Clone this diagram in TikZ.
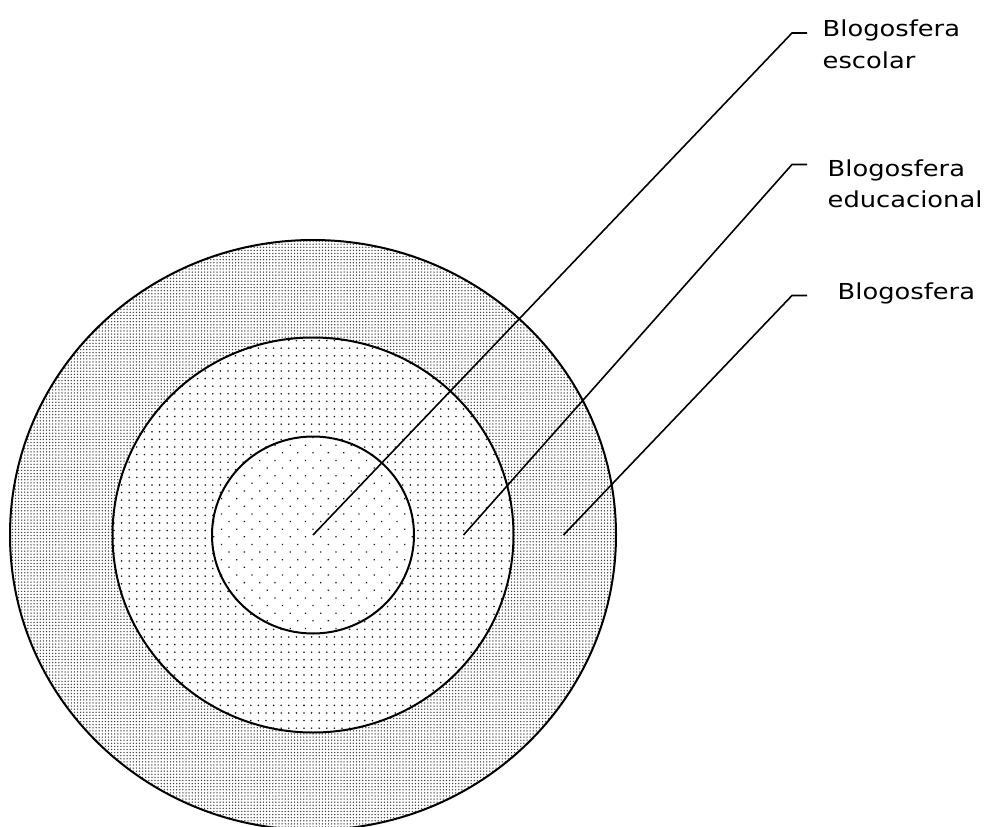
\documentclass[tikz,border=0pt]{standalone}
\usepackage{fontspec}
\newfontfamily\labfont[FakeStretch=1.17]{DejaVu Sans}
\usetikzlibrary{patterns.meta}
\tikzset{
  ring/.style={line width=2pt, draw=black},
  leader/.style={line width=1.6pt, draw=black},
  lab/.style={anchor=base west, align=left, inner sep=0pt,
              font=\labfont\fontsize{22}{31.6}\selectfont}
}
\begin{document}
\begin{tikzpicture}[x=1pt,y=-1pt]
\useasboundingbox (0,0) rectangle (986,827);
\clip (0,0) rectangle (986,827);
% fills
\fill[white] (313,535) ellipse [x radius=303, y radius=295];
\fill[pattern={Dots[distance=3.1pt, radius=0.75pt]}, pattern color=black!75]
  (313,535) ellipse [x radius=303, y radius=295];
\fill[white] (313,535) ellipse [x radius=200.5, y radius=197.5];
\fill[pattern={Dots[distance=7.6pt, radius=0.9pt]}, pattern color=black!90]
  (313,535) ellipse [x radius=200.5, y radius=197.5];
\fill[white] (313,535) ellipse [x radius=101, y radius=98.5];
\fill[pattern={Dots[distance=10.8pt, angle=45, radius=0.9pt]}, pattern color=black!90]
  (313,535) ellipse [x radius=101, y radius=98.5];
% outlines
\draw[ring] (313,535) ellipse [x radius=303, y radius=295];
\draw[ring] (313,535) ellipse [x radius=200.5, y radius=197.5];
\draw[ring] (313,535) ellipse [x radius=101, y radius=98.5];
% leader points
\coordinate (p1) at (313,535);
\coordinate (p2) at (463.5,535);
\coordinate (p3) at (563.5,535);
\coordinate (e1) at (792,33);
\coordinate (e2) at (792,164.5);
\coordinate (e3) at (792,295.5);
\coordinate (h1) at (807,33);
\coordinate (h2) at (807,164.5);
\coordinate (h3) at (807,295.5);
\draw[leader] (p1) -- (e1) -- (h1);
\draw[leader] (p2) -- (e2) -- (h2);
\draw[leader] (p3) -- (e3) -- (h3);
% labels (base anchor = baseline of last line)
\node[lab] (t1) at (822.5,68.3) {Blogosfera\\escolar};
\node[lab] (t2) at (827.5,207.6) {Blogosfera\\educacional};
\node[lab] (t3) at (837.5,299.3) {Blogosfera};
\end{tikzpicture}
\end{document}
